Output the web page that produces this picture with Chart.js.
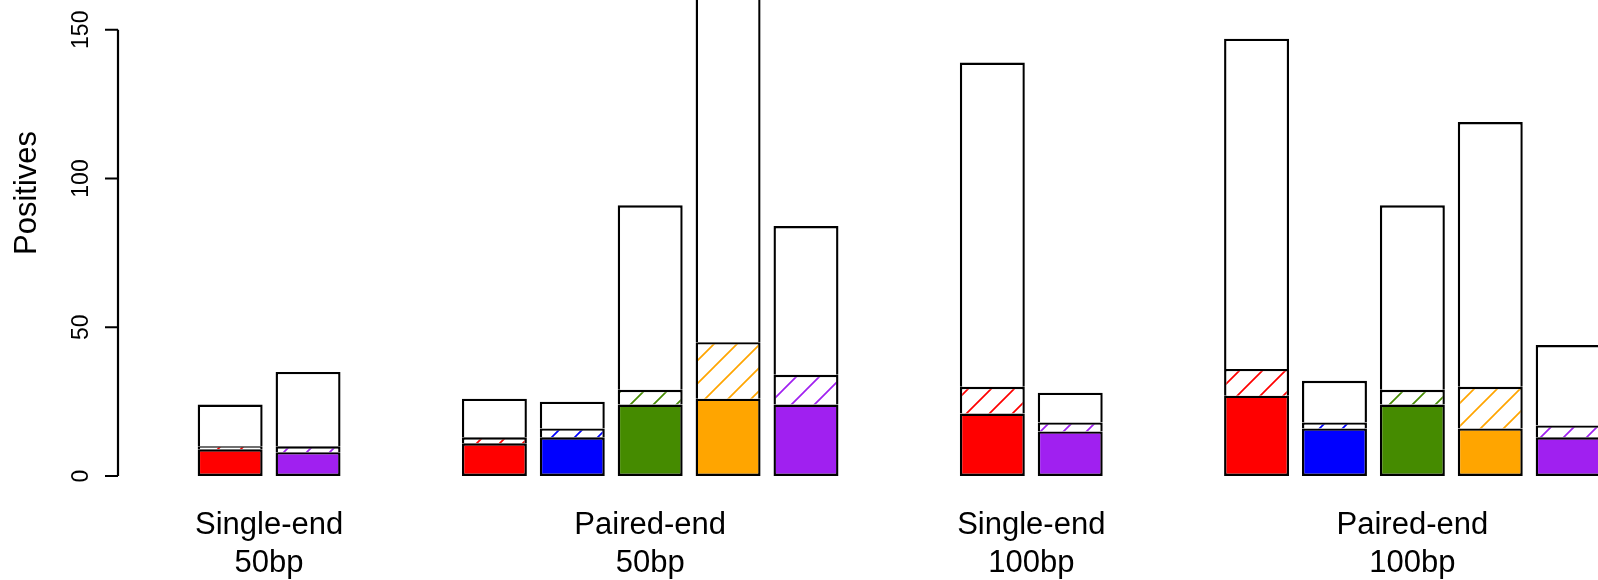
<!DOCTYPE html>
<html>
<head>
<meta charset="utf-8">
<script src="https://cdn.jsdelivr.net/npm/chart.js@4.4.1/dist/chart.umd.min.js"></script>
<style>
  html, body { margin: 0; padding: 0; background: #fff; }
  #wrap { width: 1598px; height: 580px; }
</style>
</head>
<body>
<div id="wrap"><canvas id="c" width="1598" height="580"></canvas></div>
<script>
// Read layouts shown along the x axis (two-line labels)
const GROUP_LINE1 = ['Single-end', 'Paired-end', 'Single-end', 'Paired-end'];
const GROUP_LINE2 = ['50bp', '50bp', '100bp', '100bp'];

// One entry per bar: the layout it belongs to and the method it shows
const BAR_GROUP  = [0, 0, 1, 1, 1, 1, 1, 2, 2, 3, 3, 3, 3, 3];
const BAR_METHOD = [0, 4, 0, 1, 2, 3, 4, 0, 4, 0, 1, 2, 3, 4];

// Positives per bar: solid part, top of the hatched part, full height
const SOLID     = [9, 8, 11, 13, 24, 26, 24, 21, 15, 27, 16, 24, 16, 13];
const HATCH_TOP = [10, 10, 13, 16, 29, 45, 34, 30, 18, 36, 18, 29, 30, 17];
const TOTAL     = [24, 35, 26, 25, 91, 175, 84, 139, 28, 147, 32, 91, 119, 44];

const Y_TICKS = [0, 50, 100, 150];

// ---- styling ----
const METHOD_COLORS = ['#FF0000', '#0000FF', '#458B00', '#FFA500', '#A020F0'];
const FONT = "'Liberation Sans', Arial, Helvetica, sans-serif";
const GROUP_STEP = 4.892;   // distance between layout centres, in bar slots
const X_MIN = -1.9397;      // left edge of the plot, in bar slots
const X_MAX = 17.059;       // right edge of the plot, in bar slots

// bar slot position of every bar: layouts side by side, bars centred within
const groupSize = GROUP_LINE1.map((_, g) => BAR_GROUP.filter(v => v === g).length);
const slotX = BAR_GROUP.map((g, i) => {
  const j = BAR_GROUP.slice(0, i).filter(v => v === g).length;
  return g * GROUP_STEP + j - (groupSize[g] - 1) / 2;
});
const groupCentres = GROUP_LINE1.map((_, g) => g * GROUP_STEP);

// diagonal "/" hatching on white
function hatch(color) {
  const s = 23;
  const c = document.createElement('canvas');
  c.width = s; c.height = s;
  const x = c.getContext('2d');
  x.fillStyle = '#fff';
  x.fillRect(0, 0, s, s);
  x.strokeStyle = color;
  x.lineWidth = 1.7;
  x.beginPath();
  for (const k of [-s, 0, s]) {
    x.moveTo(k - 2, s + 2);
    x.lineTo(k + s + 2, -2);
  }
  x.stroke();
  return x.createPattern(c, 'repeat');
}
const patterns = METHOD_COLORS.map(hatch);

const points = vals => vals.map((v, i) => ({ x: slotX[i], y: v }));

const common = {
  borderColor: '#000',
  borderWidth: 2.4,
  categoryPercentage: 1,
  barPercentage: 0.834
};

// R-style left axis: line from first to last tick, outward ticks, rotated labels
const leftAxis = {
  id: 'leftAxis',
  afterDraw(chart) {
    const { ctx, chartArea } = chart;
    const y = chart.scales.y;
    const x0 = chartArea.left;
    ctx.save();
    ctx.strokeStyle = '#000';
    ctx.lineWidth = 2.2;
    ctx.beginPath();
    ctx.moveTo(x0, y.getPixelForValue(Y_TICKS[0]));
    ctx.lineTo(x0, y.getPixelForValue(Y_TICKS[Y_TICKS.length - 1]));
    Y_TICKS.forEach(v => {
      const py = y.getPixelForValue(v);
      ctx.moveTo(x0, py);
      ctx.lineTo(x0 - 13, py);
    });
    ctx.stroke();

    ctx.fillStyle = '#000';
    ctx.textAlign = 'center';
    ctx.textBaseline = 'alphabetic';
    ctx.font = '23px ' + FONT;
    Y_TICKS.forEach(v => {
      const py = y.getPixelForValue(v);
      ctx.save();
      ctx.translate(x0 - 30.5, py);
      ctx.rotate(-Math.PI / 2);
      ctx.fillText(String(v), 0, 0);
      ctx.restore();
    });

    ctx.font = '31px ' + FONT;
    ctx.translate(36, 193);
    ctx.rotate(-Math.PI / 2);
    ctx.fillText('Positives', 0, 0);
    ctx.restore();
  }
};

Chart.defaults.color = '#000';
Chart.defaults.font.family = FONT;

new Chart(document.getElementById('c'), {
  type: 'bar',
  data: {
    datasets: [
      Object.assign({
        label: 'solid',
        data: points(SOLID),
        backgroundColor: BAR_METHOD.map(m => METHOD_COLORS[m]),
        borderSkipped: false
      }, common),
      Object.assign({
        label: 'hatched',
        data: points(HATCH_TOP.map((t, i) => t - SOLID[i])),
        backgroundColor: BAR_METHOD.map(m => patterns[m]),
        borderSkipped: 'start'
      }, common),
      Object.assign({
        label: 'rest',
        data: points(TOTAL.map((t, i) => t - HATCH_TOP[i])),
        backgroundColor: '#FFFFFF',
        borderSkipped: 'start'
      }, common)
    ]
  },
  options: {
    responsive: false,
    animation: false,
    layout: { padding: { left: 118, right: 0, top: 0, bottom: 0 } },
    plugins: {
      legend: { display: false },
      tooltip: { enabled: false }
    },
    scales: {
      x: {
        type: 'linear',
        stacked: true,
        bounds: 'data',
        offset: false,
        min: X_MIN,
        max: X_MAX,
        grid: { display: false, drawTicks: false },
        border: { display: false },
        afterBuildTicks: scale => {
          scale.ticks = groupCentres.map(v => ({ value: v }));
        },
        afterFit: scale => { scale.height = 104; },
        ticks: {
          autoSkip: false,
          maxRotation: 0,
          minRotation: 0,
          padding: 30,
          font: { size: 31, lineHeight: 38 / 31 },
          color: '#000',
          callback: (value, index) => [GROUP_LINE1[index], GROUP_LINE2[index]]
        }
      },
      y: {
        display: false,
        stacked: true,
        bounds: 'data',
        min: 0,
        max: 160
      }
    }
  },
  plugins: [leftAxis]
});
</script>
</body>
</html>
